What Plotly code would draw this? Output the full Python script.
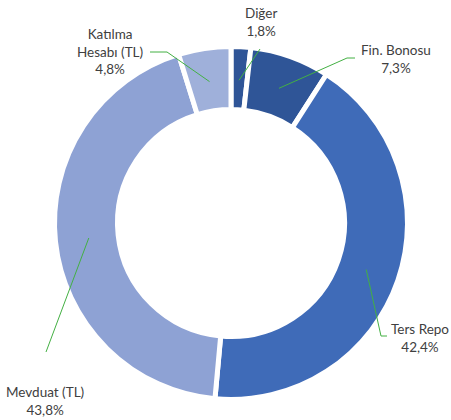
import math
import plotly.graph_objects as go

# ---- data ----
labels = ["Diğer", "Fin. Bonosu", "Ters Repo", "Mevduat (TL)", "Katılma Hesabı (TL)"]
label_text = ["Diğer", "Fin. Bonosu", "Ters Repo", "Mevduat (TL)", "Katılma<br>Hesabı (TL)"]
values = [1.8, 7.3, 42.4, 43.8, 4.8]

# ---- style ----
colors = ["#2F5597", "#2F5597", "#3F6BB8", "#8EA2D4", "#9FB0DA"]
W, H = 451, 420
CX, CY = 231, 223
R = 176.5
HOLE = 0.643
ANCHOR_R = 143
LINE_COLOR = "#43B043"
# label centre (px), elbow (px) and line end (px) for each slice (page coords)
label_pos = [(261, 22), (396, 59), (420, 338), (45, 401), (110, 51)]
elbow_pos = [(260, 49), (347, 58), (381, 336), (46, 352), (167, 52)]
end_pos = [(260, 49), (355, 58), (387, 336), (46, 352), (150, 52)]


def px(x):
    return x / W


def py(y):
    return 1 - y / H


fig = go.Figure()
fig.add_trace(go.Pie(
    labels=labels, values=values, sort=False, direction="clockwise", rotation=0,
    hole=HOLE, textinfo="none", showlegend=False,
    marker=dict(colors=colors, line=dict(color="white", width=5)),
    domain=dict(x=[px(CX - R), px(CX + R)], y=[py(CY + R), py(CY - R)]),
))

total = sum(values)
cum = 0.0
shapes = []
annotations = []
for i, v in enumerate(values):
    mid = (cum + v / 2) / total * 2 * math.pi
    cum += v
    ax = CX + ANCHOR_R * math.sin(mid)
    ay = CY - ANCHOR_R * math.cos(mid)
    ex, ey = elbow_pos[i]
    fx, fy = end_pos[i]
    path = f"M {px(ax)} {py(ay)} L {px(ex)} {py(ey)} L {px(fx)} {py(fy)}"
    shapes.append(dict(type="path", xref="paper", yref="paper", path=path,
                       line=dict(color=LINE_COLOR, width=1), layer="above"))
    pct = f"{v:.1f}".replace(".", ",") + "%"
    lx, ly = label_pos[i]
    annotations.append(dict(x=px(lx), y=py(ly), xref="paper", yref="paper",
                            text=f"{label_text[i]}<br>{pct}", showarrow=False,
                            xanchor="center", yanchor="middle", align="center",
                            font=dict(family="Lato, 'Open Sans', sans-serif", size=13.5, color="#404040")))

fig.update_layout(
    width=W, height=H, margin=dict(l=0, r=0, t=0, b=0),
    paper_bgcolor="white", plot_bgcolor="white",
    shapes=shapes, annotations=annotations,
)
fig.write_html("out.html", config={"displayModeBar": False},
               post_script="document.body.style.margin='0';")
